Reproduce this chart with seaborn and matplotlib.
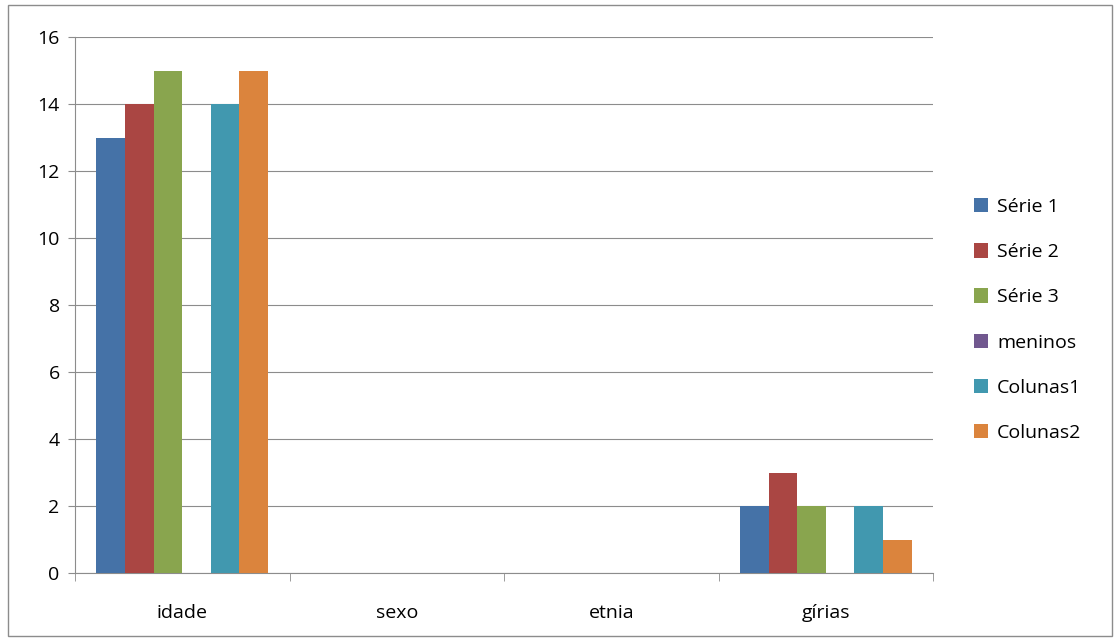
import numpy as np
import matplotlib
matplotlib.use("Agg")
import matplotlib.pyplot as plt
import pandas as pd
import seaborn as sns
from matplotlib.patches import Rectangle

CATEGORIES = ["idade", "sexo", "etnia", "gírias"]
SERIES = ["Série 1", "Série 2", "Série 3", "meninos", "Colunas1", "Colunas2"]
VALUES = {
    "Série 1":  [13, 0, 0, 2],
    "Série 2":  [14, 0, 0, 3],
    "Série 3":  [15, 0, 0, 2],
    "meninos":  [0, 0, 0, 0],
    "Colunas1": [14, 0, 0, 2],
    "Colunas2": [15, 0, 0, 1],
}
COLORS = ["#4572A7", "#AA4643", "#89A54E", "#71588F", "#4198AF", "#DB843D"]

rows = []
for s in SERIES:
    for c, v in zip(CATEGORIES, VALUES[s]):
        rows.append({"categoria": c, "serie": s, "valor": v})
df = pd.DataFrame(rows)

sns.set_style("white")
plt.rcParams["font.family"] = ["Open Sans", "DejaVu Sans"]
plt.rcParams["text.color"] = "black"
plt.rcParams["xtick.color"] = "black"
plt.rcParams["ytick.color"] = "black"

fig = plt.figure(figsize=(11.2, 6.41), dpi=100)
ax = fig.add_axes([75 / 1120, 1 - 573 / 641, (933 - 75) / 1120, (573 - 37) / 641])

sns.barplot(data=df, x="categoria", y="valor", hue="serie", order=CATEGORIES,
            hue_order=SERIES, palette=COLORS, width=0.8, saturation=1,
            edgecolor="none", linewidth=0, ax=ax, zorder=3)

ax.set_xlim(-0.5, len(CATEGORIES) - 0.5)
ax.set_ylim(0, 16)
ax.set_yticks(range(0, 17, 2))
ax.set(xlabel=None, ylabel=None)
ax.grid(axis="y", color="#8c8c8c", linewidth=0.8, zorder=0)
for side in ["top", "right"]:
    ax.spines[side].set_visible(False)
for side in ["left", "bottom"]:
    ax.spines[side].set_color("#8c8c8c")
    ax.spines[side].set_linewidth(0.8)

ax.tick_params(axis="y", length=5, color="#8c8c8c", labelcolor="black",
               labelsize=14, pad=6, left=True)
ax.tick_params(axis="x", length=0, labelcolor="black", labelsize=14, pad=22)
# category boundary ticks
ax.set_xticks(np.arange(-0.5, len(CATEGORIES)), minor=True)
ax.tick_params(axis="x", which="minor", length=6, color="#8c8c8c", bottom=True)

handles, labels = ax.get_legend_handles_labels()
leg = ax.legend(handles, labels, loc="center left", bbox_to_anchor=(1.027, 0.472),
                frameon=False, fontsize=14, handlelength=0.75, handleheight=0.75,
                handletextpad=0.45, labelspacing=1.4)

fig.patches.append(Rectangle((8 / 1120, 1 - 636 / 641), 1104 / 1120, 631 / 641,
                             transform=fig.transFigure, fill=False,
                             edgecolor="#8c8c8c", linewidth=1))

fig.savefig("out.png", dpi=100)
